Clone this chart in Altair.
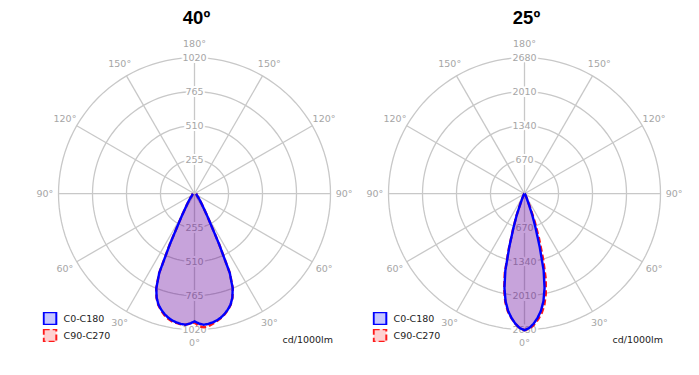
import altair as alt
import pandas as pd

# ---------------- data ----------------
gamma = [0, 2, 4, 6, 8, 10, 12, 14, 16, 18, 20, 22, 24, 26, 28, 30, 32, 35, 40, 45, 50, 60, 70, 80, 90]

# 40º panel (cd/1000lm)
c0_c180_40 = [957, 975, 985, 982, 975, 965, 950, 930, 905, 875, 830, 765, 650, 420, 260, 185, 135, 95, 60, 40, 28, 20, 16, 14, 12]
c90_40 = [965, 995, 1005, 1000, 985, 970, 953, 933, 908, 877, 832, 767, 652, 422, 261, 185, 135, 95, 60, 40, 28, 20, 16, 14, 12]
c270_40 = [965, 975, 985, 985, 979, 972, 958, 937, 910, 878, 832, 767, 652, 422, 260, 185, 135, 95, 60, 40, 28, 20, 16, 14, 12]

# 25º panel (cd/1000lm)
c0_c180_25 = [2690, 2650, 2570, 2460, 2330, 2150, 1900, 1560, 1080, 700, 450, 230, 130, 95, 70, 50, 40, 30, 20, 15, 10, 8, 5, 3, 2]
c90_25 = [2690, 2660, 2595, 2500, 2390, 2240, 2020, 1730, 1320, 920, 600, 340, 180, 115, 80, 56, 42, 31, 20, 15, 10, 8, 5, 3, 2]
c270_25 = [2690, 2650, 2570, 2465, 2345, 2175, 1930, 1600, 1110, 720, 460, 235, 132, 96, 70, 50, 40, 30, 20, 15, 10, 8, 5, 3, 2]

ring_values_40 = [255, 510, 765, 1020]
ring_values_25 = [670, 1340, 2010, 2680]
titles = ["40º", "25º"]
series_names = ["C0-C180", "C90-C270"]
spoke_angles = [0, 30, 60, 90, 120, 150, 180, 210, 240, 270, 300, 330]
angle_label_angles = [0, 30, 60, 90, 120, 150, 180, -30, -60, -90, -120, -150]
unit_label = "cd/1000lm"

# ---------------- styling / layout ----------------
R = 136.0          # px radius of outer ring
W = 330            # panel plot width
H = 330            # panel plot height
CY = 161.7         # px from plot top to pole
XD = (W / 2) / R
YT = CY / R
YB = -(H - CY) / R
GRID = "#c8c8c8"
LABEL = "#a6a6a6"
FONT = "DejaVu Sans"

fill_colors = ["rgba(0,0,255,0.22)", "rgba(255,0,0,0.18)"]
stroke_colors = ["#0000ff", "#ff1a1a"]
dashes = [[1, 0], [6, 3]]

x_axis = alt.Axis(title=unit_label, labels=False, ticks=False, domain=False, grid=False,
                  titleX=303, titleY=-23, titleAlign="right", titleBaseline="middle",
                  titleFont=FONT, titleFontSize=9.5, titleFontWeight="normal", titleColor="#222222")
xs = alt.Scale(domain=[-XD, XD], nice=False, zero=False)
ys = alt.Scale(domain=[YB, YT], nice=False, zero=False)


def X(f="x"):
    return alt.X(f"{f}:Q", scale=xs, axis=x_axis)


def Y(f="y"):
    return alt.Y(f"{f}:Q", scale=ys, axis=None)


def curve_rows(name, left, right):
    rows = []
    i = 0
    for g, v in zip(gamma[::-1], left[::-1]):
        rows.append({"series": name, "a": -g, "v": v, "idx": i})
        i += 1
    for g, v in zip(gamma[1:], right[1:]):
        rows.append({"series": name, "a": g, "v": v, "idx": i})
        i += 1
    return rows


def panel(title, maxv, rings, blue, c90, c270):
    M = float(maxv)
    ring_rows = []
    for rv in rings:
        for k, a in enumerate(range(0, 361, 3)):
            ring_rows.append({"ring": rv, "a": a, "idx": k})
    ring_df = pd.DataFrame(ring_rows)
    rings_layer = alt.Chart(ring_df).mark_line(stroke=GRID, strokeWidth=1.3).transform_calculate(
        x=f"datum.ring / {M} * sin(datum.a * PI / 180)",
        y=f"-datum.ring / {M} * cos(datum.a * PI / 180)",
    ).encode(x=X(), y=Y(), detail="ring:N", order="idx:Q")

    spokes_df = pd.DataFrame({"a": spoke_angles})
    spokes_layer = alt.Chart(spokes_df).mark_rule(stroke=GRID, strokeWidth=1.3).transform_calculate(
        x="0", y="0",
        x2="sin(datum.a * PI / 180)",
        y2="-cos(datum.a * PI / 180)",
    ).encode(x=X(), y=Y(), x2="x2:Q", y2="y2:Q")

    rl_rows = []
    for rv in rings:
        rl_rows.append({"ring": rv, "side": 1, "label": str(rv)})
        rl_rows.append({"ring": rv, "side": -1, "label": str(rv)})
    rl_df = pd.DataFrame(rl_rows)
    rl_base = alt.Chart(rl_df).transform_calculate(
        x="0", y=f"datum.side * datum.ring / {M}")
    rl_halo = rl_base.mark_text(font=FONT, fontSize=9.5, fill="white", stroke="white", strokeWidth=4,
                                baseline="middle", align="center").encode(x=X(), y=Y(), text="label:N")
    rl_text = rl_base.mark_text(font=FONT, fontSize=9.5, fill=LABEL,
                                baseline="middle", align="center").encode(x=X(), y=Y(), text="label:N")

    al_df = pd.DataFrame({"a": angle_label_angles})
    al_layer = alt.Chart(al_df).transform_calculate(
        x="1.1 * sin(datum.a * PI / 180)",
        y="-1.1 * cos(datum.a * PI / 180)",
        label="abs(datum.a) + '°'",
    ).mark_text(font=FONT, fontSize=9.5, fill=LABEL, baseline="middle", align="center").encode(
        x=X(), y=Y(), text="label:N")

    cdf = pd.DataFrame(curve_rows(series_names[0], blue, blue) + curve_rows(series_names[1], c270, c90))
    legend = alt.Legend(title=None, orient="none", legendX=13, legendY=280, symbolType="square",
                        symbolSize=160, symbolStrokeWidth=2, labelFont=FONT, labelFontSize=9.5,
                        labelColor="#222222", rowPadding=4, clipHeight=13, labelOffset=6, padding=0)
    cbase = alt.Chart(cdf).transform_calculate(
        x=f"datum.v / {M} * sin(datum.a * PI / 180)",
        y=f"-datum.v / {M} * cos(datum.a * PI / 180)",
    )
    enc = dict(
        x=X(), y=Y(), order=alt.Order("idx:Q"),
        fill=alt.Fill("series:N", scale=alt.Scale(domain=series_names, range=fill_colors), legend=legend),
        stroke=alt.Stroke("series:N", scale=alt.Scale(domain=series_names, range=stroke_colors), legend=legend),
        strokeDash=alt.StrokeDash("series:N", scale=alt.Scale(domain=series_names, range=dashes), legend=legend),
    )
    red = cbase.transform_filter(f"datum.series == '{series_names[1]}'").mark_line(strokeWidth=2.4).encode(**enc)
    blue_l = cbase.transform_filter(f"datum.series == '{series_names[0]}'").mark_line(strokeWidth=2.4).encode(**enc)

    return alt.layer(rings_layer, spokes_layer, rl_halo, rl_text, al_layer, red, blue_l).properties(
        width=W, height=H,
        title=alt.Title(title, font="Liberation Sans", fontSize=18.5, fontWeight="bold", color="black",
                        anchor="middle", offset=5, dx=2),
    )


p1 = panel(titles[0], ring_values_40[-1], ring_values_40, c0_c180_40, c90_40, c270_40)
p2 = panel(titles[1], ring_values_25[-1], ring_values_25, c0_c180_25, c90_25, c270_25)

chart = alt.hconcat(p1, p2, spacing=0, padding={"left": 21.5, "top": 0, "right": 0, "bottom": 0},
                    background="white").resolve_legend(
    fill="independent", stroke="independent", strokeDash="independent"
).configure_view(strokeWidth=0, stroke="transparent")

chart.save("out.html", embed_options={"renderer": "svg", "actions": False})
